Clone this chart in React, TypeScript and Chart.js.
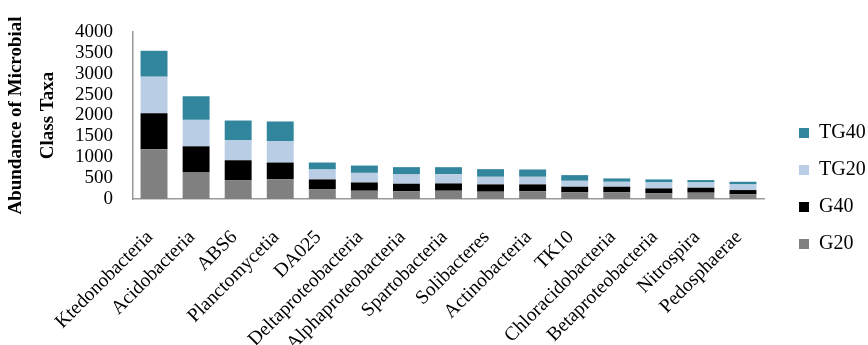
import React, { useEffect, useRef } from 'react';
import { Chart, registerables } from 'chart.js';

Chart.register(...registerables);

const categories = [
  'Ktedonobacteria', 'Acidobacteria', 'ABS6', 'Planctomycetia', 'DA025',
  'Deltaproteobacteria', 'Alphaproteobacteria', 'Spartobacteria', 'Solibacteres',
  'Actinobacteria', 'TK10', 'Chloracidobacteria', 'Betaproteobacteria', 'Nitrospira', 'Pedosphaerae',
];
const g20 = [1190, 634, 445, 476, 238, 198, 183, 198, 175, 183, 159, 159, 135, 151, 111];
const g40 = [865, 628, 483, 397, 231, 198, 183, 175, 175, 167, 135, 135, 119, 119, 103];
const tg20 = [875, 634, 476, 516, 238, 230, 222, 222, 182, 182, 142, 119, 143, 127, 136];
const tg40 = [620, 565, 476, 468, 167, 175, 175, 167, 183, 175, 136, 80, 72, 56, 63];
const seriesNames = ['G20', 'G40', 'TG20', 'TG40'];
const seriesColors = ['#808080', '#000000', '#B9CDE5', '#31859C'];
const yMin = 0;
const yMax = 4000;
const yStep = 500;
const yTitle = ['Abundance of Microbial', 'Class Taxa'];

const SERIF = '"Liberation Serif", "Times New Roman", serif';

export default function App() {
  const ref = useRef<HTMLCanvasElement>(null);
  useEffect(() => {
    const canvas = ref.current;
    if (!canvas) return;
    const values = [g20, g40, tg20, tg40];
    const chart = new Chart(canvas, {
      type: 'bar',
      data: {
        labels: categories,
        datasets: values.map((d, i) => ({
          label: seriesNames[i],
          data: d,
          backgroundColor: seriesColors[i],
          borderWidth: 0,
          barPercentage: 0.64,
          categoryPercentage: 1,
        })),
      },
      options: {
        animation: false,
        responsive: true,
        maintainAspectRatio: false,
        layout: { padding: { top: 32, left: 0, right: 0, bottom: 0 } },
        plugins: {
          legend: {
            position: 'right',
            reverse: true,
            maxWidth: 86,
            labels: {
              boxWidth: 10,
              boxHeight: 10,
              padding: 17,
              color: '#000',
              font: { family: SERIF, size: 20 },
            },
          },
          tooltip: { enabled: false },
        },
        scales: {
          x: {
            stacked: true,
            grid: { display: false, drawTicks: false },
            border: { display: true, color: '#9a9a9a', width: 1.5 },
            ticks: {
              minRotation: 45,
              maxRotation: 45,
              autoSkip: false,
              padding: 27,
              labelOffset: -4,
              color: '#000',
              font: { family: SERIF, size: 19.5 },
            },
            afterFit: (s: any) => { s.height = 146; },
          },
          y: {
            stacked: true,
            min: yMin,
            max: yMax,
            grid: { display: false, drawTicks: false },
            border: { display: true, color: '#9a9a9a', width: 1.5 },
            ticks: {
              stepSize: yStep,
              autoSkip: false,
              padding: 20,
              color: '#000',
              font: { family: SERIF, size: 19, lineHeight: 1 },
              callback: (v: any) => String(v),
            },
            title: {
              display: true,
              text: yTitle,
              color: '#000',
              font: { family: SERIF, size: 19, weight: 'bold', lineHeight: 1.7 },
              padding: 0,
            },
            afterFit: (s: any) => { s.width = 133; },
          },
          spacer: {
            type: 'linear',
            position: 'right',
            display: true,
            grid: { display: false, drawTicks: false },
            border: { display: false },
            ticks: { display: false },
            afterFit: (s: any) => { s.width = 18; },
          },
        },
      } as any,
    });
    return () => chart.destroy();
  }, []);
  return (
    <div style={{ position: 'fixed', left: 0, top: 0, width: 868, height: 345, background: '#fff' }}>
      <canvas ref={ref} />
    </div>
  );
}
